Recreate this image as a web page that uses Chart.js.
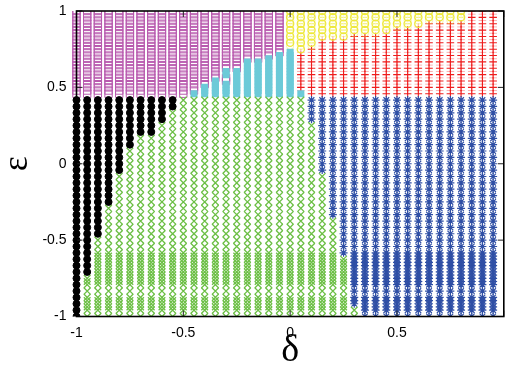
<!DOCTYPE html>
<html><head><meta charset="utf-8">
<script src="https://cdn.jsdelivr.net/npm/chart.js@4"></script>
<style>
html,body{margin:0;padding:0;overflow:hidden;background:#fff;width:506px;height:366px}
#wrap{position:absolute;left:0;top:0;width:510px;height:366px}
</style>
</head><body><div id="wrap"><canvas id="c" width="510" height="366"></canvas></div>
<script>
// ---- data: parameter sweep columns (delta) ----
const deltas = [-1,-0.95,-0.9,-0.85,-0.8,-0.75,-0.7,-0.65,-0.6,-0.55,-0.5,-0.45,-0.4,-0.35,-0.3,-0.25,-0.2,-0.15,-0.1,-0.05,
                0,0.05,0.1,0.15,0.2,0.25,0.3,0.35,0.4,0.45,0.5,0.55,0.6,0.65,0.7,0.75,0.8,0.85,0.9,0.95];
// epsilon row index k : eps = -1 + k/48 (lower phases sampled on even k)
const lowerTopK = 68;      // last lower row (eps ~ 0.417)
const upperBottomK = 70;   // first upper row (eps ~ 0.458)
const upperTopK = 96;      // eps = 1
// phase boundaries per column (null = phase absent in that column)
const blackBottomK = [0,14,26,36,46,54,58,58,62,66, null,null,null,null,null,null,null,null,null,null,
                      null,null,null,null,null,null,null,null,null,null,null,null,null,null,null,null,null,null,null,null];
const greenTopK    = [null,12,24,34,44,52,56,56,60,64,68,68,68,68,68,68,68,68,68,68,
                      68,68,60,44,30,18,2,null,null,null,null,null,null,null,null,null,null,null,null,null];
const blueBottomK  = [null,null,null,null,null,null,null,null,null,null,null,null,null,null,null,null,null,null,null,null,
                      null,null,62,46,32,20,4,0,0,0,0,0,0,0,0,0,0,0,0,0];
const denseRowsK   = [3,5,11,13,15,17,19];
const cyanTopK     = [null,null,null,null,null,null,null,null,null,null,null,70,72,74,77,77,80,80,81,82,
                      83,70,null,null,null,null,null,null,null,null,null,null,null,null,null,null,null,null,null,null];
const cyanHoles    = [[-0.3,74],[-0.3,75]];
const magentaCols  = [-1,-0.95,-0.9,-0.85,-0.8,-0.75,-0.7,-0.65,-0.6,-0.55,-0.5,-0.45,-0.4,-0.35,-0.3,-0.25,-0.2,-0.15,-0.1,-0.05];
const yellowBottomK= [null,null,null,null,null,null,null,null,null,null,null,null,null,null,null,null,null,null,null,null,
                      85,84,85,88,88,88,89,89,89,90,91,91,92,93,93,93,93,null,null,null];
const redBottomK   = [null,null,null,null,null,null,null,null,null,null,null,null,null,null,null,null,null,null,null,null,
                      null,71,70,70,70,70,70,70,70,70,70,70,70,70,70,70,70,70,70,70];
const xTicks = [-1,-0.5,0,0.5,1];
const yTicks = [-1,-0.5,0,0.5,1];

const eps = k => -1 + k/48;
const black=[], green=[], blue=[], cyan=[], magenta=[], yellow=[], yellowOdd=[], red=[], redOdd=[];
deltas.forEach((d,i)=>{
  if (blackBottomK[i]!==null) for(let k=blackBottomK[i];k<=lowerTopK;k+=2) black.push({x:d,y:eps(k)});
  if (greenTopK[i]!==null) {
    for(let k=0;k<=greenTopK[i];k+=2) green.push({x:d,y:eps(k)});
    denseRowsK.forEach(k=>{ if(k<=greenTopK[i]) green.push({x:d,y:eps(k)}); });
  }
  if (blueBottomK[i]!==null) {
    for(let k=blueBottomK[i];k<=lowerTopK;k+=2) blue.push({x:d,y:eps(k)});
    denseRowsK.forEach(k=>{ if(k>=blueBottomK[i]) blue.push({x:d,y:eps(k)}); });
  }
  const holes = cyanHoles.filter(h=>h[0]===d).map(h=>h[1]);
  let magStart = upperBottomK;
  if (cyanTopK[i]!==null) {
    for(let k=upperBottomK;k<=cyanTopK[i];k++){
      if (holes.includes(k)) magenta.push({x:d,y:eps(k)}); else cyan.push({x:d,y:eps(k)});
    }
    magStart = cyanTopK[i]+1;
  }
  if (magentaCols.includes(d)) for(let k=magStart;k<=upperTopK;k++) magenta.push({x:d,y:eps(k)});
  if (yellowBottomK[i]!==null) for(let k=yellowBottomK[i];k<=upperTopK;k++) (k%2?yellowOdd:yellow).push({x:d,y:eps(k)});
  if (redBottomK[i]!==null) {
    const top = yellowBottomK[i]!==null ? yellowBottomK[i]-1 : upperTopK;
    for(let k=redBottomK[i];k<=top;k++) (k%2?redOdd:red).push({x:d,y:eps(k)});
  }
});

const clip = {left:8,right:8,top:0,bottom:0};
function ds(data, style, radius, color, fill, bw){
  return {data, pointStyle:style, pointRadius:radius, pointHoverRadius:radius,
    borderColor:color, backgroundColor: fill ? color : 'rgba(0,0,0,0)', borderWidth:bw, clip};
}

const frame = {
  id:'frame',
  afterDatasetsDraw(chart){
    const {ctx, chartArea:a, scales:{x,y}} = chart;
    ctx.save();
    ctx.strokeStyle='#222'; ctx.lineWidth=1;
    const tl=6;
    xTicks.forEach(v=>{const px=x.getPixelForValue(v);
      ctx.beginPath();ctx.moveTo(px,a.bottom);ctx.lineTo(px,a.bottom-tl);ctx.moveTo(px,a.top);ctx.lineTo(px,a.top+tl);ctx.stroke();});
    yTicks.forEach(v=>{const py=y.getPixelForValue(v);
      ctx.beginPath();ctx.moveTo(a.left,py);ctx.lineTo(a.left+tl,py);ctx.moveTo(a.right,py);ctx.lineTo(a.right-tl,py);ctx.stroke();});
    ctx.strokeStyle='#000'; ctx.lineWidth=1.6;
    ctx.strokeRect(a.left,a.top,a.right-a.left,a.bottom-a.top);
    ctx.restore();
  }
};

new Chart(document.getElementById('c'),{
  type:'scatter',
  data:{datasets:[
    ds(black,'circle',3.5,'#000000',true,1),
    ds(green,'crossRot',4.7,'#6cbf45',false,1.3),
    ds(blue,'star',4,'#2f4fa5',false,1.2),
    ds(cyan,'rect',5,'#6ccad8',true,0),
    ds(magenta,'rect',5.2,'#b85aae',false,1),
    ds(yellow,'circle',3.6,'#eee83c',false,1.3),
    ds(yellowOdd,'circle',3.6,'rgba(238,232,60,0.45)',false,1),
    ds(red,'cross',3.8,'#ee1c1c',false,1.1),
    ds(redOdd,'cross',3.8,'rgba(238,28,28,0.35)',false,1)
  ]},
  options:{
    responsive:false, animation:false, devicePixelRatio:1,
    layout:{padding:{left:0,right:1.5,top:11,bottom:0}},
    plugins:{legend:{display:false},tooltip:{enabled:false}},
    events:[],
    scales:{
      x:{type:'linear',min:-1,max:1,
         grid:{display:false,drawTicks:false},border:{display:false},
         ticks:{stepSize:0.5,padding:8,color:'#000',font:{family:'Liberation Sans',size:14},
                maxRotation:0,callback:v=>Math.abs(v-1)<1e-9?'':String(v)},
         title:{display:true,text:'δ',color:'#000',font:{family:'Liberation Serif',size:38,lineHeight:0.8},padding:0},
         afterFit:s=>{s.height=49.5;s.paddingLeft=0;s.paddingRight=0;s.paddingTop=0;s.paddingBottom=0;}},
      y:{type:'linear',min:-1,max:1,
         grid:{display:false,drawTicks:false},border:{display:false},
         ticks:{stepSize:0.5,padding:10,color:'#000',font:{family:'Liberation Sans',size:14},callback:v=>String(v)},
         title:{display:true,text:'ε',color:'#000',font:{family:'Liberation Serif',size:36,lineHeight:0.95},padding:0},
         afterFit:s=>{s.width=76.5;s.paddingLeft=0;s.paddingRight=0;s.paddingTop=0;s.paddingBottom=0;}}
    }
  },
  plugins:[frame]
});
</script></body></html>
